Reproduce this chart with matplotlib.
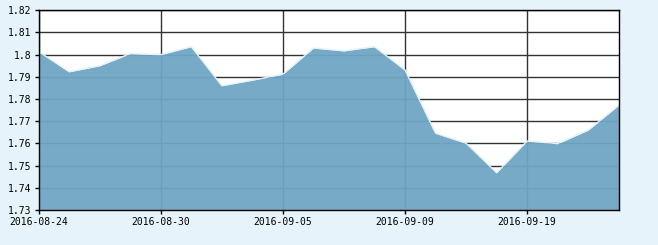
import matplotlib
matplotlib.use("Agg")
import matplotlib.pyplot as plt
import numpy as np

dates = ["2016-08-24", "2016-08-25", "2016-08-26", "2016-08-29", "2016-08-30",
         "2016-08-31", "2016-09-01", "2016-09-02", "2016-09-05", "2016-09-06",
         "2016-09-07", "2016-09-08", "2016-09-09", "2016-09-12", "2016-09-13",
         "2016-09-14", "2016-09-19", "2016-09-20", "2016-09-21", "2016-09-22"]
values = [1.8014, 1.7923, 1.7950, 1.8005, 1.8000, 1.8036, 1.7860, 1.7885,
          1.7912, 1.8030, 1.8017, 1.8036, 1.7931, 1.7646, 1.7601, 1.7468,
          1.7611, 1.7599, 1.7660, 1.7772]
xtick_labels = ["2016-08-24", "2016-08-30", "2016-09-05", "2016-09-09", "2016-09-19"]
yticks = [1.73, 1.74, 1.75, 1.76, 1.77, 1.78, 1.79, 1.80, 1.81, 1.82]
ytick_labels = ["1.73", "1.74", "1.75", "1.76", "1.77", "1.78", "1.79", "1.8", "1.81", "1.82"]

bg = "#e6f3fb"
fig = plt.figure(figsize=(6.58, 2.45), dpi=100)
fig.patch.set_facecolor(bg)
ax = fig.add_axes([0.0588, 0.1429, 0.8815, 0.8151])
ax.set_facecolor("white")

x = np.arange(len(dates))
ax.fill_between(x, values, 1.73, color="#70a6c4", alpha=0.95, linewidth=0, zorder=2)
ax.plot(x, values, color="#e4f1fa", linewidth=1.0, zorder=3)

ax.set_xlim(0, len(dates) - 1)
ax.set_ylim(1.73, 1.82)
ax.set_yticks(yticks)
ax.set_yticklabels(ytick_labels)
ax.set_xticks([dates.index(d) for d in xtick_labels])
ax.set_xticklabels(xtick_labels)

ax.grid(True, color="#333333", linewidth=1.0, zorder=1)
ax.set_axisbelow(True)
for spine in ax.spines.values():
    spine.set_color("black")
    spine.set_linewidth(1.0)
    spine.set_zorder(4)
ax.tick_params(direction="out", length=3, width=1, color="black", pad=2,
               labelsize=7)
for lab in ax.get_xticklabels() + ax.get_yticklabels():
    lab.set_family("DejaVu Sans Mono")

fig.savefig("out.png", dpi=100, facecolor=fig.get_facecolor())
plt.close(fig)
